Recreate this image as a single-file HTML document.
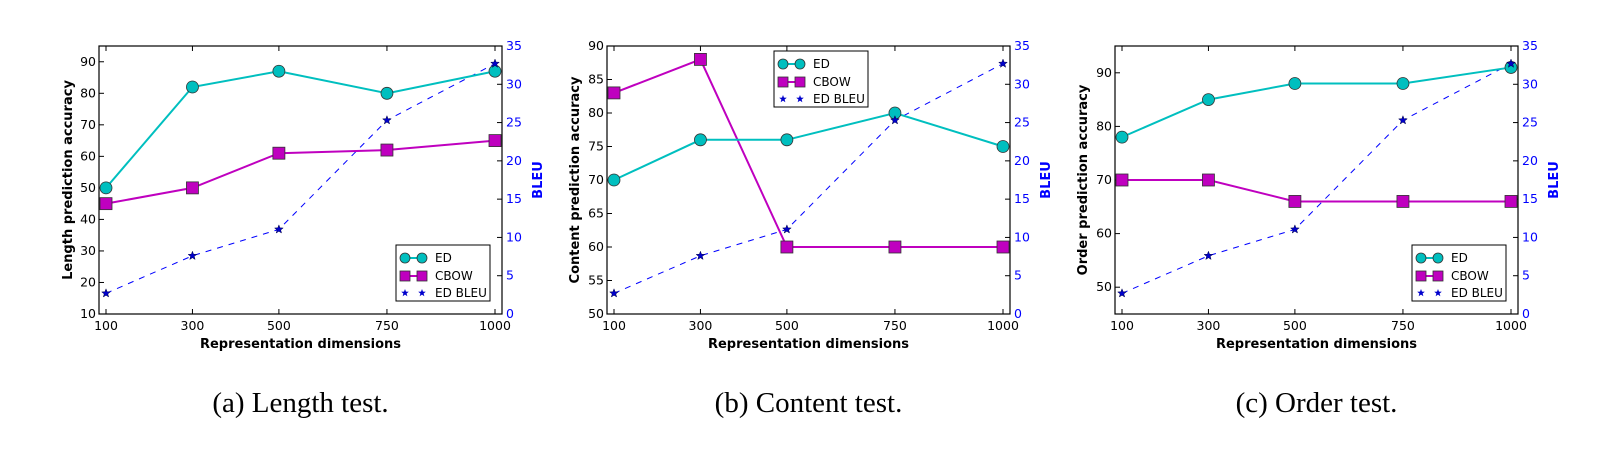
<!DOCTYPE html>
<html><head><meta charset="utf-8"><style>
html,body{margin:0;padding:0;background:#fff;}
svg{display:block;}
text{font-family:"DejaVu Sans","Liberation Sans",sans-serif;}
</style></head><body>
<svg id="fig" width="1600" height="451" viewBox="0 0 1600 451" xmlns="http://www.w3.org/2000/svg"></svg>
<script>
const categories = [100, 300, 500, 750, 1000];
const bleuValues = [2.7, 7.6, 11.05, 25.3, 32.7];
const lengthED = [50, 82, 87, 80, 87];
const lengthCBOW = [45, 50, 61, 62, 65];
const contentED = [70, 76, 76, 80, 75];
const contentCBOW = [83, 88, 60, 60, 60];
const orderED = [78, 85, 88, 88, 91];
const orderCBOW = [70, 70, 66, 66, 66];
const lengthTicks = [10, 20, 30, 40, 50, 60, 70, 80, 90];
const contentTicks = [50, 55, 60, 65, 70, 75, 80, 85, 90];
const orderTicks = [50, 60, 70, 80, 90];
const bleuTicks = [0, 5, 10, 15, 20, 25, 30, 35];
const xTickLabels = ["100", "300", "500", "750", "1000"];

const NS = "http://www.w3.org/2000/svg";
const svg = document.getElementById('fig');
function mk(tag, attrs, parent, txt) {
  const e = document.createElementNS(NS, tag);
  for (const k in attrs) e.setAttribute(k, attrs[k]);
  if (txt !== undefined) e.textContent = txt;
  (parent || svg).appendChild(e);
  return e;
}
function star(cx, cy, r) {
  let p = [];
  for (let i = 0; i < 10; i++) {
    const a = -Math.PI / 2 + i * Math.PI / 5;
    const rr = i % 2 ? r * 0.42 : r;
    p.push((cx + rr * Math.cos(a)).toFixed(2) + "," + (cy + rr * Math.sin(a)).toFixed(2));
  }
  return p.join(" ");
}

function chart(cfg) {
  const g = mk('g', {});
  
  
  const L = cfg.left, R = cfg.left + 403, T = 46, B = 314;
  const x0 = cfg.left + 7, x1 = cfg.left + 396;
  const xs = v => x0 + (v - 100) / 900 * (x1 - x0);
  const ys = v => B - (v - cfg.ymin) / (cfg.ymax - cfg.ymin) * (B - T);
  const yr = v => B - v / 35 * (B - T);
  categories.forEach((c, i) => {
    const x = xs(c);
    mk('line', {x1: x, x2: x, y1: B, y2: B - 5, stroke: '#000'}, g);
    mk('line', {x1: x, x2: x, y1: T, y2: T + 5, stroke: '#000'}, g);
    const t = mk('text', {x: x, y: B + 16, 'font-size': 12.5, 'text-anchor': 'middle'}, g, xTickLabels[i]);
    
    
  });
  cfg.ticks.forEach(v => {
    const y = ys(v);
    mk('line', {x1: L, x2: L + 5, y1: y, y2: y, stroke: '#000'}, g);
    const t = mk('text', {x: L - 3, y: y + 4, 'font-size': 12.5, 'text-anchor': 'end'}, g, String(v));
    
    
  });
  bleuTicks.forEach(v => {
    const y = yr(v);
    mk('line', {x1: R, x2: R - 5, y1: y, y2: y, stroke: '#000'}, g);
    const t = mk('text', {x: R + 4, y: y + 4, 'font-size': 12.5, fill: '#0000ff'}, g, String(v));
    
    
  });
  const bp = categories.map((c, i) => xs(c) + ',' + yr(bleuValues[i])).join(' ');
  const bl = mk('polyline', {points: bp, fill: 'none', stroke: '#0000ff', 'stroke-width': 1, 'stroke-dasharray': '6,6'}, g);
  
  
  const cp = categories.map((c, i) => xs(c) + ',' + ys(cfg.cbow[i])).join(' ');
  const cl = mk('polyline', {points: cp, fill: 'none', stroke: '#bf00bf', 'stroke-width': 2}, g);
  
  
  const ep = categories.map((c, i) => xs(c) + ',' + ys(cfg.ed[i])).join(' ');
  const el = mk('polyline', {points: ep, fill: 'none', stroke: '#00bfbf', 'stroke-width': 2}, g);
  
  
  categories.forEach((c, i) => {
    const s = mk('rect', {x: xs(c) - 6, y: ys(cfg.cbow[i]) - 6, width: 12, height: 12, fill: '#bf00bf', stroke: '#333', 'stroke-width': 0.8}, g);
    
    
  });
  categories.forEach((c, i) => {
    const s = mk('circle', {cx: xs(c), cy: ys(cfg.ed[i]), r: 6, fill: '#00bfbf', stroke: '#333', 'stroke-width': 0.8}, g);
    
    
  });
  categories.forEach((c, i) => {
    const s = mk('polygon', {points: star(xs(c), yr(bleuValues[i]), 4.5), fill: '#0000cc', stroke: '#000044', 'stroke-width': 0.5}, g);
    
    
  });
  mk('rect', {x: L, y: T, width: R - L, height: B - T, fill: 'none', stroke: '#000', 'stroke-width': 1.2}, g);
  const xl = mk('text', {x: (L + R) / 2, y: 348, 'font-size': 13, 'font-weight': 'bold', 'text-anchor': 'middle'}, g, 'Representation dimensions');
  
  
  const yl = mk('text', {x: 0, y: 0, 'font-size': 13, 'font-weight': 'bold', 'text-anchor': 'middle', transform: `translate(${cfg.ylabX},${(T + B) / 2}) rotate(-90)`}, g, cfg.ylabel);
  
  
  const rl = mk('text', {x: 0, y: 0, 'font-size': 13, 'font-weight': 'bold', fill: '#0000ff', 'text-anchor': 'middle', transform: `translate(${R + 40},${(T + B) / 2}) rotate(-90)`}, g, 'BLEU');
  
  
  const lg = mk('g', {}, g);
  
  
  const lx = cfg.legX, ly = cfg.legY;
  mk('rect', {x: lx, y: ly, width: 94, height: 56, fill: '#fff', stroke: '#000', 'stroke-width': 1}, lg);
  const r1 = ly + 13, r2 = ly + 31, r3 = ly + 48;
  mk('line', {x1: lx + 9, x2: lx + 26, y1: r1, y2: r1, stroke: '#00bfbf', 'stroke-width': 2}, lg);
  mk('circle', {cx: lx + 9, cy: r1, r: 5, fill: '#00bfbf', stroke: '#333', 'stroke-width': 0.8}, lg);
  mk('circle', {cx: lx + 26, cy: r1, r: 5, fill: '#00bfbf', stroke: '#333', 'stroke-width': 0.8}, lg);
  mk('line', {x1: lx + 9, x2: lx + 26, y1: r2, y2: r2, stroke: '#bf00bf', 'stroke-width': 2}, lg);
  mk('rect', {x: lx + 4, y: r2 - 5, width: 10, height: 10, fill: '#bf00bf', stroke: '#333', 'stroke-width': 0.8}, lg);
  mk('rect', {x: lx + 21, y: r2 - 5, width: 10, height: 10, fill: '#bf00bf', stroke: '#333', 'stroke-width': 0.8}, lg);
  mk('polygon', {points: star(lx + 9, r3, 4), fill: '#0000cc'}, lg);
  mk('polygon', {points: star(lx + 26, r3, 4), fill: '#0000cc'}, lg);
  const e1 = mk('text', {x: lx + 39, y: r1 + 4, 'font-size': 12}, lg, 'ED');
  
  
  const e2 = mk('text', {x: lx + 39, y: r2 + 4, 'font-size': 12}, lg, 'CBOW');
  
  
  const e3 = mk('text', {x: lx + 39, y: r3 + 4, 'font-size': 12}, lg, 'ED BLEU');
  
  
  const cap = mk('text', {x: (L + R) / 2, y: 412, 'font-size': 29, 'text-anchor': 'middle', style: 'font-family:"Liberation Serif",serif'}, g, cfg.caption);
  
  
}

chart({name: 'length-test-chart', left: 99, ymin: 10, ymax: 95, ticks: lengthTicks, ed: lengthED, cbow: lengthCBOW, ylabel: 'Length prediction accuracy', ylabX: 72, legX: 396, legY: 245, caption: '(a) Length test.'});
chart({name: 'content-test-chart', left: 607, ymin: 50, ymax: 90, ticks: contentTicks, ed: contentED, cbow: contentCBOW, ylabel: 'Content prediction accuracy', ylabX: 579, legX: 774, legY: 51, caption: '(b) Content test.'});
chart({name: 'order-test-chart', left: 1115, ymin: 45, ymax: 95, ticks: orderTicks, ed: orderED, cbow: orderCBOW, ylabel: 'Order prediction accuracy', ylabX: 1087, legX: 1412, legY: 245, caption: '(c) Order test.'});
</script>
</body></html>
